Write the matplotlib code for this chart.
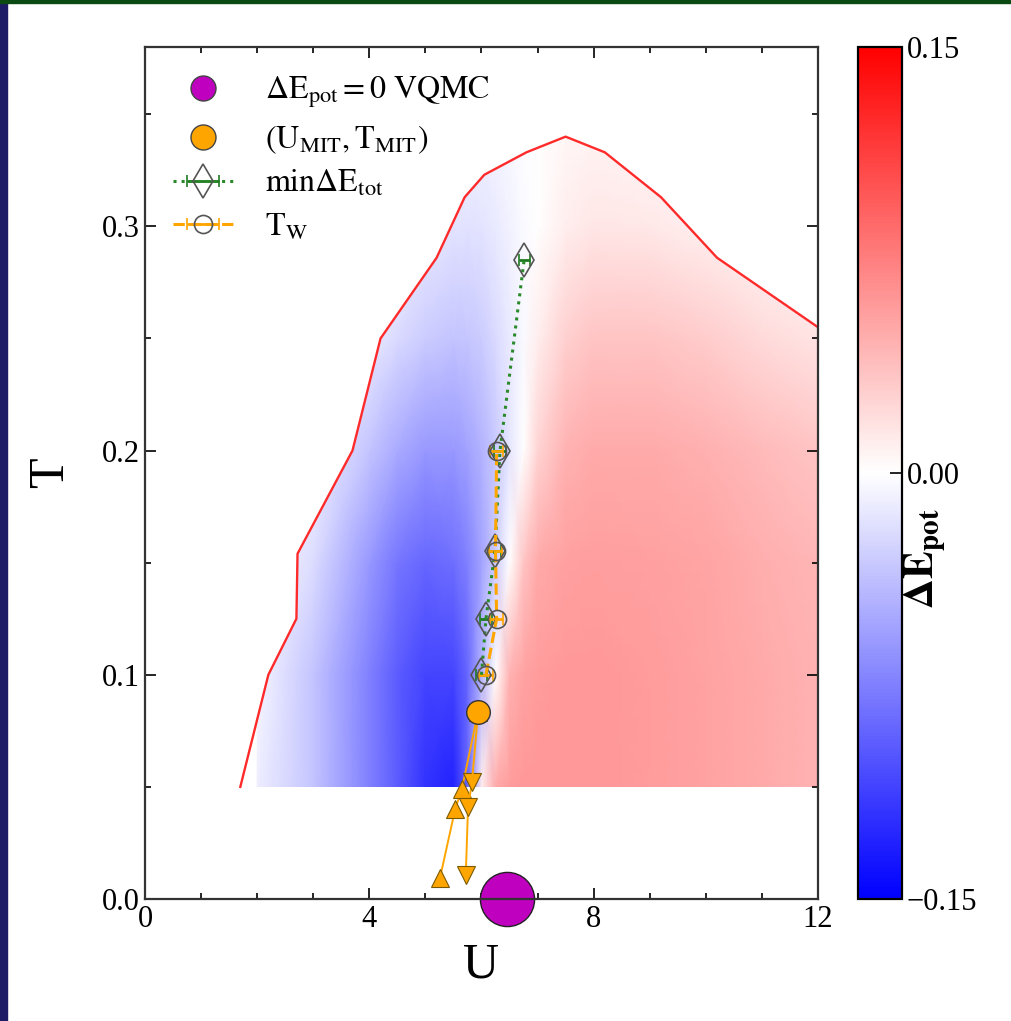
import numpy as np
import matplotlib
matplotlib.use("Agg")
import matplotlib.pyplot as plt
from matplotlib.patches import Polygon, Rectangle
from matplotlib.lines import Line2D

plt.rcParams['font.family'] = ['Liberation Serif', 'DejaVu Serif']
plt.rcParams['mathtext.fontset'] = 'stix'

# boundary of the computed region (red line)
bound_U = [1.7, 2.2, 2.7, 2.72, 3.7, 4.2, 5.2, 5.7, 6.05, 6.8, 7.5, 8.2, 9.2, 10.2, 12.0]
bound_T = [0.05, 0.10, 0.125, 0.154, 0.20, 0.25, 0.286, 0.313, 0.323, 0.333, 0.340, 0.333, 0.313, 0.286, 0.255]

# Delta E_pot map (rows: T, columns: U)
grid_U = [2, 3, 4, 4.5, 5, 5.5, 5.75, 6, 6.25, 6.5, 6.75, 7, 7.5, 8, 9, 10, 11, 12]
grid_T = [0.05, 0.10, 0.15, 0.20, 0.25, 0.30, 0.35]
dEpot = np.array([
    [-0.010, -0.035, -0.075, -0.095, -0.120, -0.130, -0.090, 0.010, 0.050, 0.058, 0.060, 0.060, 0.060, 0.060, 0.058, 0.055, 0.050, 0.045],
    [-0.005, -0.035, -0.075, -0.095, -0.110, -0.110, -0.090, -0.045, 0.000, 0.045, 0.055, 0.058, 0.060, 0.060, 0.058, 0.055, 0.050, 0.045],
    [0.000, -0.020, -0.060, -0.080, -0.090, -0.085, -0.075, -0.055, -0.030, 0.000, 0.035, 0.050, 0.056, 0.057, 0.056, 0.053, 0.048, 0.043],
    [0.000, -0.008, -0.035, -0.050, -0.060, -0.060, -0.055, -0.045, -0.032, -0.015, 0.000, 0.025, 0.045, 0.050, 0.050, 0.046, 0.040, 0.035],
    [0.000, 0.000, -0.012, -0.022, -0.030, -0.035, -0.033, -0.030, -0.022, -0.012, -0.003, 0.010, 0.028, 0.035, 0.035, 0.030, 0.022, 0.016],
    [0.000, 0.000, 0.000, -0.005, -0.012, -0.016, -0.017, -0.016, -0.012, -0.008, -0.003, 0.000, 0.010, 0.015, 0.013, 0.009, 0.004, 0.000],
    [0.000, 0.000, 0.000, 0.000, -0.003, -0.005, -0.006, -0.006, -0.005, -0.003, -0.001, 0.000, 0.004, 0.005, 0.003, 0.000, 0.000, 0.000],
])

# min Delta E_tot
min_U = [6.0, 6.08, 6.24, 6.33, 6.76]
min_T = [0.10, 0.125, 0.155, 0.20, 0.285]
min_err = [0.10, 0.10, 0.10, 0.10, 0.10]

# T_W
tw_U = [6.08, 6.27, 6.25, 6.27]
tw_T = [0.10, 0.125, 0.155, 0.20]
tw_err = [0.12, 0.12, 0.12, 0.12]

# MIT point and the two branches below it
mit_U, mit_T = 5.94, 0.0835
up_U = [5.94, 5.65, 5.53, 5.26]
up_T = [0.0835, 0.049, 0.040, 0.0094]
dn_U = [5.94, 5.83, 5.76, 5.72]
dn_T = [0.0835, 0.052, 0.041, 0.0107]

# VQMC point
vqmc_U, vqmc_T = 6.45, 0.0

cb_ticks = [-0.15, 0.0, 0.15]
cb_labels = ['\u22120.15', '0.00', '0.15']

fig = plt.figure(figsize=(10.11, 10.21), dpi=100)
ax = fig.add_axes([0.1434, 0.1195, 0.6657, 0.8345])
cax = fig.add_axes([0.8487, 0.1195, 0.0435, 0.8345])

# slide border
fig.patches.append(Rectangle((0, 0), 0.007, 1, transform=fig.transFigure, color='#1d1a66', zorder=0))
fig.patches.append(Rectangle((0, 0.997), 1, 0.003, transform=fig.transFigure, color='#0b4a12', zorder=0))

mesh = ax.pcolormesh(grid_U, grid_T, dEpot, shading='gouraud', cmap='bwr', vmin=-0.15, vmax=0.15, zorder=1)
clip = Polygon(list(zip(bound_U, bound_T)) + [(12.0, 0.05)], closed=True,
               transform=ax.transData, facecolor='none', edgecolor='none')
ax.add_patch(clip)
mesh.set_clip_path(clip)

ax.plot(bound_U, bound_T, color='#ff2a2a', lw=1.7, zorder=2)

ax.plot(up_U, up_T, color='orange', lw=1.4, marker='^', ms=13, mfc='orange', mec='#7a5a00', mew=0.8, zorder=3)
ax.plot(dn_U[1:], dn_T[1:], color='orange', lw=1.4, marker='v', ms=13, mfc='orange', mec='#7a5a00', mew=0.8, zorder=3)
ax.plot(dn_U[:2], dn_T[:2], color='orange', lw=1.4, zorder=3)
ax.plot([mit_U], [mit_T], 'o', ms=17, color='orange', mec='#333333', mew=1.0, zorder=4)

e1 = ax.errorbar(min_U, min_T, xerr=min_err, color='#2a8a2a', ls=':', lw=2.2, marker='d', ms=17,
                 mfc='none', mec='#555555', mew=1.2, ecolor='#1f7a1f', elinewidth=2, capsize=4, zorder=5)
e2 = ax.errorbar(tw_U, tw_T, xerr=tw_err, color='orange', ls='--', lw=2.2, marker='o', ms=13,
                 mfc='none', mec='#555555', mew=1.2, ecolor='orange', elinewidth=2, capsize=4, zorder=5)

ax.plot([vqmc_U], [vqmc_T], 'o', ms=39, color='#bf00bf', mec='#222222', mew=1.0, clip_on=False, zorder=2)

ax.set_xlim(0, 12)
ax.set_ylim(0, 0.38)
ax.set_xticks([0, 4, 8, 12])
ax.set_xticks(np.arange(0, 13, 1), minor=True)
ax.set_yticks([0.0, 0.1, 0.2, 0.3])
ax.set_yticks(np.arange(0, 0.38, 0.05), minor=True)
ax.set_yticklabels(['0.0', '0.1', '0.2', '0.3'])
ax.tick_params(which='both', direction='in', top=True, right=True, labelsize=22, width=1.2)
ax.tick_params(which='major', length=8)
ax.tick_params(which='minor', length=4)
ax.tick_params(axis='x', pad=4)
for s in ax.spines.values():
    s.set_linewidth(1.6)
    s.set_color('#333333')

ax.set_xlabel('U', fontsize=36, labelpad=6)
ax.set_ylabel('T', fontsize=36, labelpad=20)

h1 = Line2D([], [], ls='none', marker='o', ms=18, color='#bf00bf', mec='#444444')
h2 = Line2D([], [], ls='none', marker='o', ms=18, color='orange', mec='#444444')
leg = ax.legend([h1, h2, e1, e2],
                [r'$\Delta\mathrm{E_{pot}=0\ VQMC}$', r'$(\mathrm{U_{MIT},T_{MIT}})$',
                 r'$\mathrm{min}\Delta\mathrm{E_{tot}}$', r'$\mathrm{T_W}$'],
                loc='upper left', bbox_to_anchor=(0.0, 1.0), frameon=False, fontsize=23,
                handlelength=1.9, labelspacing=0.4, handletextpad=1.0, borderaxespad=0.47)

cb = fig.colorbar(mesh, cax=cax, ticks=cb_ticks)
cb.set_ticklabels(cb_labels)
cb.outline.set_linewidth(1.6)
cax.tick_params(direction='in', length=9, width=1.2, labelsize=22)
cb.set_label(r'$\mathbf{\Delta E_{pot}}$', fontsize=30, labelpad=-54, y=0.4)

fig.savefig('out.png', dpi=100)
